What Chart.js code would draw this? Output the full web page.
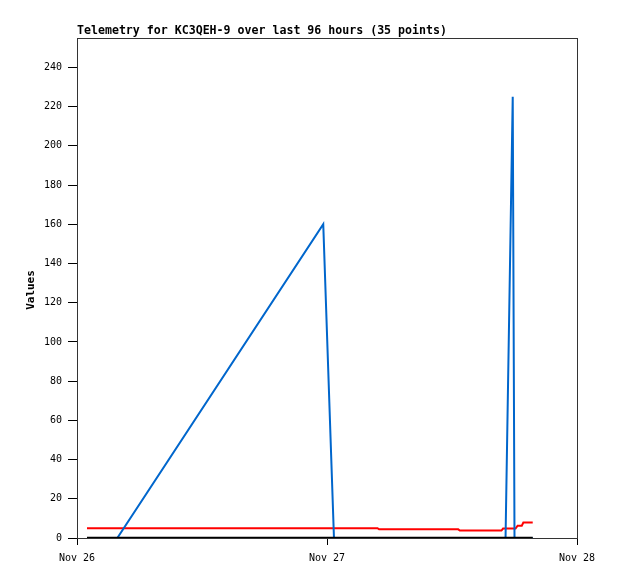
<!DOCTYPE html>
<html>
<head>
<meta charset="utf-8">
<script src="https://cdn.jsdelivr.net/npm/chart.js@4.4.0/dist/chart.umd.min.js"></script>
<style>
  html, body { margin: 0; padding: 0; background: #fff; }
  #wrap { width: 618px; height: 579px; }
</style>
</head>
<body>
<div id="wrap"><canvas id="telemetry-chart" width="618" height="579"></canvas></div>
<script>
// Дані (години від Nov 26 00:00)
const chartTitle = "Telemetry for KC3QEH-9 over last 96 hours (35 points)";
const yAxisTitle = "Values";
const xTickHours = [0, 24, 48];
const xTickLabels = ["Nov 26", "Nov 27", "Nov 28"];

const blueHours  = [0.96, 3.87, 23.64, 24.67, 41.14, 41.83, 42.0, 43.75];
const blueValues = [0, 0, 160, 0, 0, 225, 0, 0];

const redHours  = [0.96, 28.85, 29.0, 36.6, 36.75, 40.75, 40.9, 42.1, 42.3, 42.7, 42.85, 43.75];
const redValues = [5.0, 5.0, 4.4, 4.4, 3.8, 3.8, 4.8, 4.8, 6.3, 6.3, 7.9, 7.9];

const zeroHours  = [0.96, 43.75];
const zeroValues = [0, 0];

const toPoints = (xs, ys) => xs.map((x, i) => ({ x: x, y: ys[i] }));

// Заголовок, підпис осі Y та рамка
const framePlugin = {
  id: "frame",
  afterDraw(chart) {
    const ctx = chart.ctx;
    const a = chart.chartArea;
    ctx.save();
    ctx.strokeStyle = "#333";
    ctx.lineWidth = 1;
    ctx.strokeRect(Math.round(a.left) + 0.5, Math.round(a.top) + 0.5,
      Math.round(a.right - a.left), Math.round(a.bottom - a.top));
    ctx.fillStyle = "#000";
    ctx.font = "bold 11.6px 'DejaVu Sans Mono'";
    ctx.textAlign = "left";
    ctx.textBaseline = "middle";
    ctx.fillText(chartTitle, a.left, 31);
    ctx.translate(31, (a.top + a.bottom) / 2 + 2);
    ctx.rotate(-Math.PI / 2);
    ctx.textAlign = "center";
    ctx.font = "bold 11px 'DejaVu Sans Mono'";
    ctx.fillText(yAxisTitle, 0, 0);
    ctx.restore();
  }
};

const canvas = document.getElementById("telemetry-chart");

const chart = new Chart(canvas.getContext("2d"), {
  type: "line",
  data: {
    datasets: [
      {
        data: toPoints(zeroHours, zeroValues),
        borderColor: "#000000",
        borderWidth: 2.5,
        order: 0
      },
      {
        data: toPoints(blueHours, blueValues),
        borderColor: "#0066cc",
        borderWidth: 2,
        order: 1
      },
      {
        data: toPoints(redHours, redValues),
        borderColor: "#ff0000",
        borderWidth: 2,
        order: 2
      }
    ]
  },
  options: {
    responsive: false,
    animation: false,
    layout: { padding: { left: 0, right: 41, top: 38, bottom: 0 } },
    elements: {
      point: { radius: 0 },
      line: { tension: 0, fill: false }
    },
    plugins: {
      legend: { display: false },
      tooltip: { enabled: false },
      title: { display: false }
    },
    scales: {
      x: {
        type: "linear",
        min: 0,
        max: 48,
        afterFit: s => { s.height = 41; },
        afterBuildTicks: s => { s.ticks = xTickHours.map(v => ({ value: v })); },
        grid: { drawOnChartArea: false, drawTicks: true, tickLength: 7, tickColor: "#000" },
        border: { display: true, color: "#333" },
        ticks: {
          padding: 7,
          color: "#000",
          maxRotation: 0,
          font: { family: "'DejaVu Sans Mono'", size: 10 },
          callback: v => xTickLabels[xTickHours.indexOf(v)]
        }
      },
      y: {
        min: 0,
        max: 255,
        afterFit: s => { s.width = 77; },
        grid: { drawOnChartArea: false, drawTicks: true, tickLength: 9, tickColor: "#000" },
        border: { display: true, color: "#333" },
        ticks: {
          stepSize: 20,
          includeBounds: false,
          padding: 6,
          color: "#000",
          font: { family: "'DejaVu Sans Mono'", size: 10 }
        }
      }
    }
  },
  plugins: [framePlugin]
});
</script>
</body>
</html>
